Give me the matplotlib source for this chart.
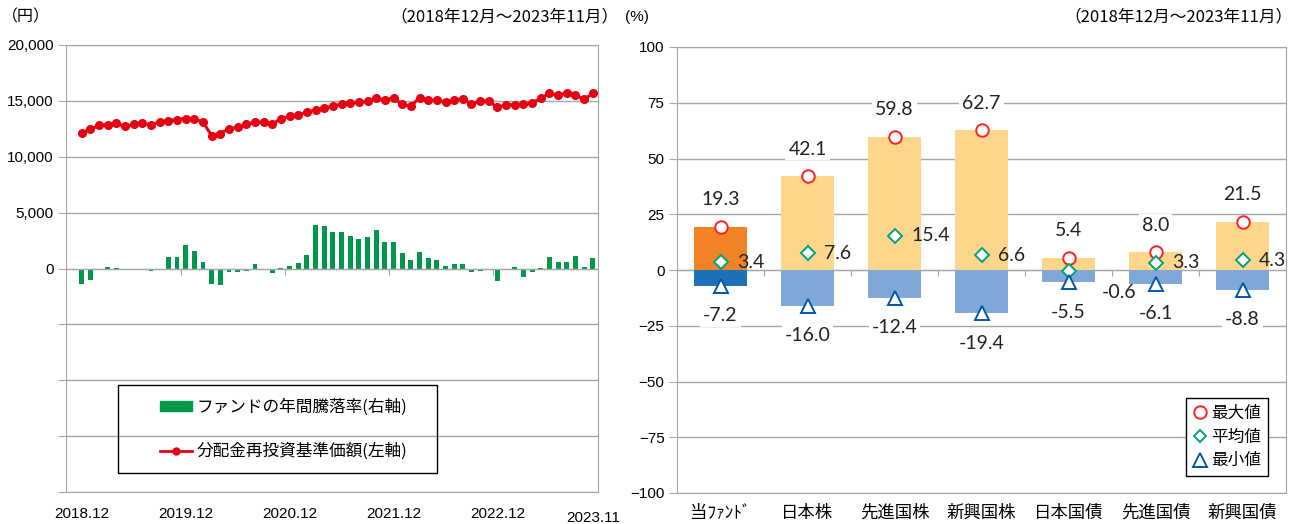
import matplotlib
matplotlib.use('Agg')
import matplotlib.pyplot as plt
from matplotlib.lines import Line2D
from matplotlib.patches import Patch, Rectangle
from matplotlib.transforms import ScaledTranslation

plt.rcParams['font.family'] = ['Liberation Sans', 'Noto Sans CJK JP', 'DejaVu Sans']

# ---------------- data: left chart ----------------
nav = [12170, 12440, 12800, 12860, 12980, 12710, 12890, 13000, 12860, 13090,
       13240, 13330, 13420, 13360, 13120, 11900, 12080, 12500, 12620, 12890,
       13090, 13090, 12920, 13390, 13630, 13720, 13990, 14170, 14350, 14550,
       14710, 14770, 14890, 14950, 15250, 15070, 15280, 14680, 14530, 15280,
       15070, 15070, 14890, 15070, 15190, 14680, 15010, 14980, 14410, 14650,
       14650, 14680, 14800, 15250, 15670, 15520, 15670, 15520, 15130, 15670]
annual_return = [-6.9, -5.1, -0.2, 0.5, 0.4, -0.6, -0.2, 0.0, -1.2, -0.6,
                 5.1, 5.1, 10.3, 7.8, 3.0, -7.1, -7.2, -1.6, -1.6, -1.2,
                 1.9, 0.0, -2.1, 0.3, 1.2, 2.4, 6.1, 19.3, 19.1, 16.3,
                 16.4, 14.5, 13.3, 14.1, 17.3, 11.8, 11.7, 6.9, 3.7, 7.3,
                 4.6, 3.7, 1.2, 2.2, 2.1, -1.6, -1.0, 0.0, -5.4, -0.3,
                 0.5, -4.0, -1.5, 0.4, 5.1, 2.7, 3.0, 5.4, 0.6, 4.8]
x_tick_idx = [0, 12, 24, 36, 48, 59]
x_tick_labels = ['2018.12', '2019.12', '2020.12', '2021.12', '2022.12', '2023.11']
year_sep = [11.5, 23.5, 35.5, 47.5]
left_yticks = [-20000, -15000, -10000, -5000, 0, 5000, 10000, 15000, 20000]

# ---------------- data: right chart ----------------
categories = ['当ﾌｧﾝﾄﾞ', '日本株', '先進国株', '新興国株', '日本国債', '先進国債', '新興国債']
max_vals = [19.3, 42.1, 59.8, 62.7, 5.4, 8.0, 21.5]
avg_vals = [3.4, 7.6, 15.4, 6.6, -0.6, 3.3, 4.3]
min_vals = [-7.2, -16.0, -12.4, -19.4, -5.5, -6.1, -8.8]
right_yticks = [-100, -75, -50, -25, 0, 25, 50, 75, 100]

GRID = '#A6A6A6'
W, H = 1295, 524
fig = plt.figure(figsize=(W / 100, H / 100), dpi=100)

# ================= LEFT CHART =================
ax = fig.add_axes([66 / W, 1 - 492 / H, (598 - 66) / W, (492 - 45) / H])
ax2 = ax.twinx()
ax.set_zorder(ax2.get_zorder() + 1)
ax.patch.set_visible(False)

xs = list(range(len(nav)))
ax2.bar(xs, annual_return, width=0.55, color='#00984A', zorder=2)
ax2.set_ylim(-100, 100)
ax2.set_yticks([])
for s in ax2.spines.values():
    s.set_visible(False)

ax.plot(xs, nav, color='#E60012', lw=2.2, marker='o', ms=5.5, zorder=3)
ax.set_xlim(-1.8, 59.6)
ax.set_ylim(-20000, 20000)
ax.set_yticks(left_yticks)
ax.set_yticklabels([f'{v:,}' if v >= 0 else '' for v in left_yticks])
ax.yaxis.grid(True, color=GRID, lw=1)
ax.tick_params(axis='y', length=6, color=GRID, labelsize=11, pad=3)
ax.set_xticks(x_tick_idx)
ax.set_xticklabels(x_tick_labels)
ax.tick_params(axis='x', length=0, labelsize=11, pad=11)
lab = ax.get_xticklabels()[-1]
lab.set_transform(lab.get_transform() + ScaledTranslation(0, -3 / 72, fig.dpi_scale_trans))
for s in ax.spines.values():
    s.set_color(GRID)

sec = ax.secondary_xaxis(0.4999)
sec.set_xticks(year_sep)
sec.tick_params(axis='x', direction='out', length=4, color=GRID, labelbottom=False, labeltop=False)
for s in sec.spines.values():
    s.set_color(GRID)

# legend (left)
ax.add_patch(Rectangle((0.098, 0.0425), 0.599, 0.197, transform=ax.transAxes,
                       fill=False, ec='black', lw=1, zorder=5))
lh = [Patch(color='#00984A'),
      Line2D([], [], color='#E60012', lw=2, marker='o', ms=5)]
ax.legend(lh, ['ファンドの年間騰落率(右軸)', '分配金再投資基準価額(左軸)'],
          loc='center left', bbox_to_anchor=(0.177, 0.14), frameon=False,
          borderpad=0, borderaxespad=0, handlelength=1.9, handleheight=0.5,
          handletextpad=0.3, labelspacing=1.6,
          prop={'family': ['Noto Sans CJK JP'], 'size': 12})

fig.text(2 / W, 1 - 17 / H, '（円）', ha='left', va='center', fontsize=11.5,
         family=['Noto Sans CJK JP'])
fig.text(618 / W, 1 - 17 / H, '（2018年12月～2023年11月）', ha='right', va='center',
         fontsize=12, family=['Noto Sans CJK JP'])

# ================= RIGHT CHART =================
axr = fig.add_axes([677 / W, 1 - 493 / H, 609 / W, 446 / H])
xc = list(range(len(categories)))
pos_cols = ['#F28226'] + ['#FDD68C'] * 6
neg_cols = ['#1F6EB8'] + ['#7FA7D8'] * 6
axr.bar(xc, max_vals, width=0.6, color=pos_cols, zorder=2)
axr.bar(xc, min_vals, width=0.6, color=neg_cols, zorder=2)
axr.plot(xc, max_vals, 'o', ms=9, mfc='white', mec='#FF2020', mew=1.4, ls='none', zorder=4)
axr.plot(xc, avg_vals, 'D', ms=7, mfc='white', mec='#00A37A', mew=1.4, ls='none', zorder=4)
axr.plot(xc, min_vals, '^', ms=9.5, mfc='white', mec='#0057A8', mew=1.4, ls='none', zorder=4)

axr.set_xlim(-0.5, 6.5)
axr.set_ylim(-100, 100)
axr.set_yticks(right_yticks)
axr.yaxis.grid(True, color=GRID, lw=1)
axr.set_axisbelow(True)
axr.tick_params(axis='y', length=6, color=GRID, labelsize=11, pad=3)
axr.set_xticks(xc)
axr.set_xticklabels(categories, family=['Noto Sans CJK JP'], fontsize=12.5)
axr.tick_params(axis='x', length=0, pad=8)
for s in axr.spines.values():
    s.set_color(GRID)

secr = axr.secondary_xaxis(0.4999)
secr.set_xticks([i + 0.5 for i in xc[:-1]])
secr.tick_params(axis='x', direction='out', length=4, color=GRID, labelbottom=False, labeltop=False)
for s in secr.spines.values():
    s.set_color(GRID)

bb = dict(boxstyle='square,pad=0.15', fc='white', ec='none')
vfont = dict(fontsize=14, family=['Lato', 'DejaVu Sans'], color='#222222', zorder=6)
for i in xc:
    axr.annotate(f'{max_vals[i]:.1f}', (i, max_vals[i]), xytext=(0, 19.5),
                 textcoords='offset points', ha='center', va='center', bbox=bb, **vfont)
    axr.annotate(f'{min_vals[i]:.1f}', (i, min_vals[i]), xytext=(0, -21.5),
                 textcoords='offset points', ha='center', va='center', bbox=bb, **vfont)
    if avg_vals[i] < 0:
        off = (24, -15)
    else:
        off = (12, 0)
    axr.annotate(f'{avg_vals[i]:.1f}', (i, avg_vals[i]), xytext=off,
                 textcoords='offset points', ha='left', va='center', **vfont)

rh = [Line2D([], [], ls='none', marker='o', ms=9, mfc='white', mec='#FF2020', mew=1.4),
      Line2D([], [], ls='none', marker='D', ms=6.5, mfc='white', mec='#00A37A', mew=1.4),
      Line2D([], [], ls='none', marker='^', ms=9.5, mfc='white', mec='#0057A8', mew=1.4)]
leg = axr.legend(rh, ['最大値', '平均値', '最小値'], loc='lower right',
                 bbox_to_anchor=(0.97, 0.038), borderaxespad=0, fancybox=False,
                 edgecolor='black', framealpha=1, handlelength=0.9, handletextpad=0.2,
                 labelspacing=0.4, borderpad=0.4,
                 prop={'family': ['Noto Sans CJK JP'], 'size': 12})
leg.get_frame().set_linewidth(1)

fig.text(625 / W, 1 - 17 / H, '(%)', ha='left', va='center', fontsize=11)
fig.text(1292 / W, 1 - 17 / H, '（2018年12月～2023年11月）', ha='right', va='center',
         fontsize=12, family=['Noto Sans CJK JP'])

fig.savefig('out.png', dpi=100, facecolor='white')
